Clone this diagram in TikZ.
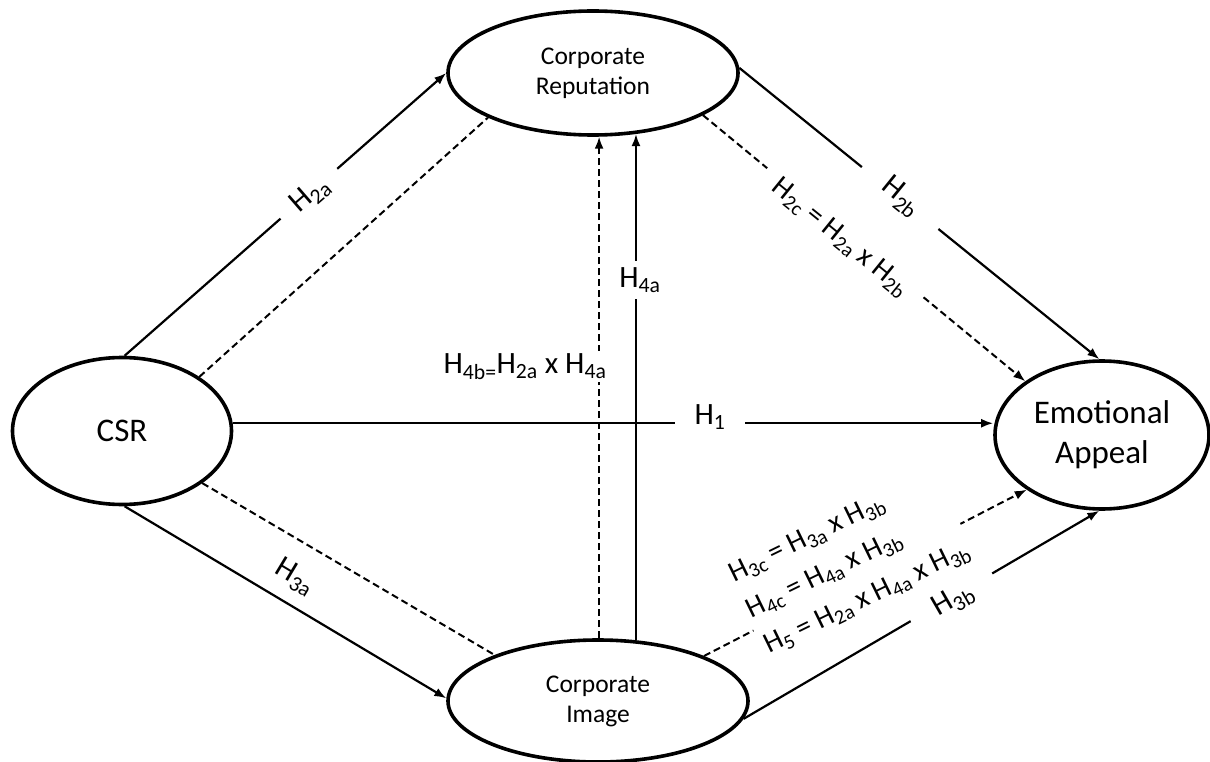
\documentclass[tikz,border=0pt]{standalone}
\usepackage{fontspec}
\setmainfont{Carlito}
\usetikzlibrary{shapes.geometric,arrows.meta,calc}
\newcommand\Hsub[1]{H\textsubscript{#1}}
\begin{document}
\begin{tikzpicture}[x=1pt,y=-1pt,
  construct/.style={ellipse, draw, line width=3.6pt, inner sep=0pt, align=center},
  link/.style={line width=2.2pt, -{Latex[length=12pt,width=9pt]}},
  med/.style={line width=2pt, dash pattern=on 7pt off 4pt},
  medarrow/.style={med, -{Latex[length=12pt,width=9pt]}},
  lab/.style={font=\fontsize{31}{36}\selectfont, inner sep=2pt},
  gap/.style={fill=white},
]
\fill[white] (0,0) rectangle (1210,762);
\useasboundingbox (0,0) rectangle (1210,762);

% constructs
\node[construct, minimum width=219pt, minimum height=147pt, font=\fontsize{33}{38}\selectfont] (CSR) at (122,431) {CSR};
\node[construct, minimum width=290pt, minimum height=124pt, font=\fontsize{25.5}{30}\selectfont] (CR) at (593,73) {Corporate\\Reputation};
\node[construct, minimum width=300pt, minimum height=122pt, font=\fontsize{25.5}{30}\selectfont] (CI) at (598,701) {Corporate\\Image};
\node[construct, minimum width=214pt, minimum height=148pt, font=\fontsize{33}{40}\selectfont] (EA) at (1102,435) {Emotional\\Appeal};

% connectors
\draw[link] (CSR.88) -- (CR.west);
\draw[med] (CSR.35) -- (CR.203);
\draw[link] (CSR.272) -- (CI.179);
\draw[med] (CSR.327) -- (CI.156);
\draw[link] (CSR.4) -- (CSR.4 -| EA.west);
\draw[link] (CI.58) -- (CI.58 |- CR.305);
\draw[medarrow] (CI.89) -- (CI.89 |- CR.276);
\draw[link] (CR.2) -- (EA.92);
\draw[medarrow] (CR.339) -- (EA.145);
\draw[medarrow] (CI.23) -- (EA.216);
\draw[link] (CI.353) -- (EA.268);

% labels
\node[lab, gap, rotate=41, inner xsep=17pt] (lH2a) at (310,195) {\Hsub{2a}};
\node[lab, rotate=-31] (lH3a) at (295,577) {\Hsub{3a}};
\node[lab, gap, inner xsep=20pt, anchor=base] (lH1) at (710,424) {\Hsub{1}};
\node[lab, gap, inner ysep=6pt] (lH4a) at (640,280) {\Hsub{4a}};
\node[lab, gap, anchor=base] (lH4b) at (525,373) {H\textsubscript{4b=}H\textsubscript{2a} x \Hsub{4a}};
\node[lab, gap, rotate=-39, inner xsep=28pt] (lH2b) at (901,197) {\Hsub{2b}};
\node[lab, gap, rotate=-39, inner xsep=16pt, font=\fontsize{29}{34}\selectfont] (lH2c) at (840,238) {\Hsub{2c} = \Hsub{2a} x \Hsub{2b}};
\node[lab, gap, rotate=30, inner xsep=26pt] (lH3b) at (953,600) {\Hsub{3b}};
\node[lab, gap, rotate=26, align=left, inner sep=4pt, font=\fontsize{29}{40}\selectfont] (lH5) at (850,563)
  {\Hsub{3c} = \Hsub{3a} x \Hsub{3b}\\ \Hsub{4c} = \Hsub{4a} x \Hsub{3b}\\ \Hsub{5} = \Hsub{2a} x \Hsub{4a} x \Hsub{3b}};
\end{tikzpicture}
\end{document}
